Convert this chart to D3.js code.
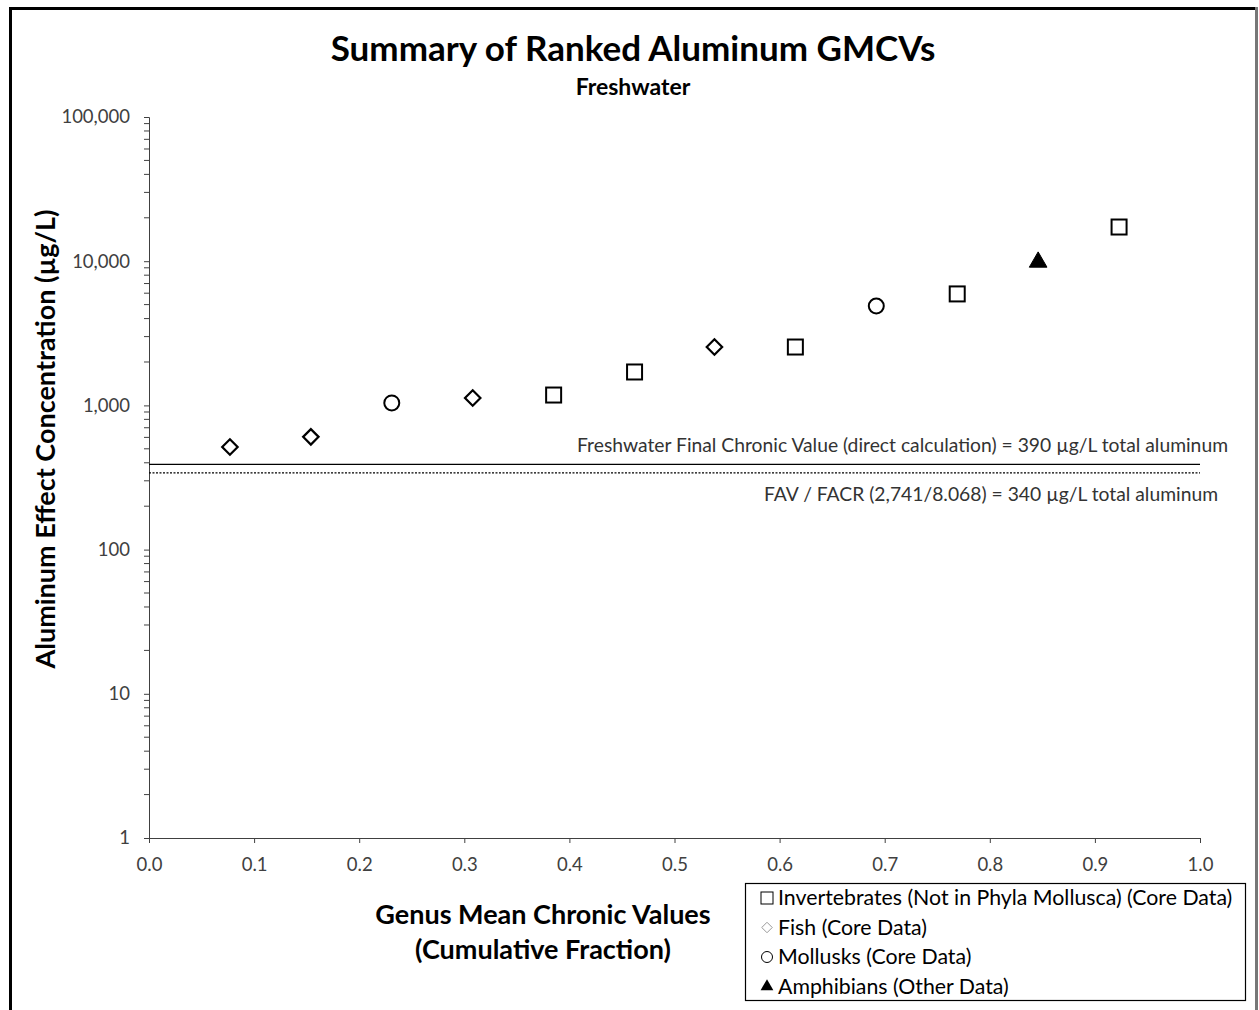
<!DOCTYPE html>
<html>
<head>
<meta charset="utf-8">
<script src="https://cdn.jsdelivr.net/npm/d3@7"></script>
<style>
  html, body { margin: 0; padding: 0; background: #fff; }
  svg { display: block; font-family: Lato, "Open Sans", sans-serif; }
</style>
</head>
<body>
<svg id="chart" width="1259" height="1010"></svg>
<script>
// ---- data ----
const ranks = [1, 2, 3, 4, 5, 6, 7, 8, 9, 10, 11, 12];
const cumFraction = [0.077, 0.154, 0.231, 0.308, 0.385, 0.462, 0.538, 0.615, 0.692, 0.769, 0.846, 0.923];
const gmcv = [515, 605, 1040, 1125, 1180, 1705, 2540, 2540, 4890, 5930, 9860, 17260];
const group = ["Fish", "Fish", "Mollusks", "Fish", "Invertebrates", "Invertebrates", "Fish", "Invertebrates", "Mollusks", "Invertebrates", "Amphibians", "Invertebrates"];
const legendLabels = [
  ["Invertebrates", "Invertebrates (Not in Phyla Mollusca) (Core Data)"],
  ["Fish", "Fish (Core Data)"],
  ["Mollusks", "Mollusks (Core Data)"],
  ["Amphibians", "Amphibians (Other Data)"]
];
const xTicks = [0, 0.1, 0.2, 0.3, 0.4, 0.5, 0.6, 0.7, 0.8, 0.9, 1.0];
const yTicks = [1, 10, 100, 1000, 10000, 100000];
const fcvDirect = 390;
const fcvRatio = 340;
const fcvDirectLabel = "Freshwater Final Chronic Value (direct calculation) = 390 µg/L total aluminum";
const fcvRatioLabel = "FAV / FACR (2,741/8.068) = 340 µg/L total aluminum";

// ---- layout ----
const svg = d3.select("#chart");
const x = d3.scaleLinear().domain([0, 1]).range([149, 1200]);
const y = d3.scaleLog().domain([1, 100000]).range([838, 117]);
const axisColor = "#404040";

// outer frame
svg.append("line").attr("x1", 10).attr("x2", 1257).attr("y1", 8.5).attr("y2", 8.5).attr("stroke", "#000").attr("stroke-width", 3);
svg.append("line").attr("x1", 10.5).attr("x2", 10.5).attr("y1", 7).attr("y2", 1010).attr("stroke", "#000").attr("stroke-width", 3);
svg.append("line").attr("x1", 1256.5).attr("x2", 1256.5).attr("y1", 7).attr("y2", 1010).attr("stroke", "#777").attr("stroke-width", 3);

// title
svg.append("text").attr("x", 633).attr("y", 61).attr("text-anchor", "middle")
  .attr("font-size", 35).attr("font-weight", "bold").attr("fill", "#000")
  .text("Summary of Ranked Aluminum GMCVs");
svg.append("text").attr("x", 633).attr("y", 95).attr("text-anchor", "middle")
  .attr("font-size", 23).attr("font-weight", "bold").attr("fill", "#000")
  .text("Freshwater");

// y axis
const minorTicks = [];
for (let d = 1; d < 100000; d *= 10) for (let m = 2; m <= 9; m++) minorTicks.push(d * m);
const yAxisG = svg.append("g").attr("transform", `translate(${x(0)},0)`);
yAxisG.call(d3.axisLeft(y).tickValues(yTicks).tickFormat(d3.format(",")).tickSize(5).tickPadding(14));
yAxisG.selectAll(".domain").attr("stroke", axisColor);
yAxisG.selectAll(".tick line").attr("stroke", axisColor);
yAxisG.selectAll(".tick text").attr("font-size", 18.5).attr("fill", "#404040").attr("font-family", "Lato, sans-serif");
yAxisG.selectAll(".minor").data(minorTicks).enter().append("line")
  .attr("x1", -5).attr("x2", 0).attr("y1", d => y(d)).attr("y2", d => y(d)).attr("stroke", axisColor);

// x axis
const xAxisG = svg.append("g").attr("transform", `translate(0,${y(1)})`);
xAxisG.call(d3.axisBottom(x).tickValues(xTicks).tickFormat(d3.format(".1f")).tickSize(5).tickPadding(15).tickSizeOuter(0));
xAxisG.selectAll(".domain").attr("stroke", axisColor);
xAxisG.selectAll(".tick line").attr("stroke", axisColor);
xAxisG.selectAll(".tick text").attr("font-size", 18.5).attr("fill", "#404040").attr("font-family", "Lato, sans-serif");

// axis titles
svg.append("text").attr("transform", `translate(55,${439}) rotate(-90)`).attr("text-anchor", "middle")
  .attr("font-size", 27).attr("font-weight", "bold").attr("fill", "#000")
  .text("Aluminum Effect Concentration (µg/L)");
svg.append("text").attr("x", 543).attr("y", 924).attr("text-anchor", "middle")
  .attr("font-size", 27).attr("font-weight", "bold").attr("fill", "#000")
  .text("Genus Mean Chronic Values");
svg.append("text").attr("x", 543).attr("y", 959).attr("text-anchor", "middle")
  .attr("font-size", 27).attr("font-weight", "bold").attr("fill", "#000")
  .text("(Cumulative Fraction)");

// reference lines
svg.append("line").attr("x1", x(0)).attr("x2", x(1)).attr("y1", y(fcvDirect)).attr("y2", y(fcvDirect))
  .attr("stroke", "#000").attr("stroke-width", 1.3);
svg.append("line").attr("x1", x(0)).attr("x2", x(1)).attr("y1", y(fcvRatio)).attr("y2", y(fcvRatio))
  .attr("stroke", "#000").attr("stroke-width", 1.2).attr("stroke-dasharray", "2,1.5");
svg.append("text").attr("x", 1228).attr("y", y(fcvDirect) - 12).attr("text-anchor", "end")
  .attr("font-size", 19.3).attr("fill", "#333").text(fcvDirectLabel);
svg.append("text").attr("x", 1218).attr("y", y(fcvRatio) + 28).attr("text-anchor", "end")
  .attr("font-size", 19.3).attr("fill", "#333").text(fcvRatioLabel);

// markers
function drawMarker(g, type, size) {
  const s = size;
  if (type === "Invertebrates") {
    g.append("rect").attr("x", -s / 2).attr("y", -s / 2).attr("width", s).attr("height", s)
      .attr("fill", "#fff").attr("stroke", "#000").attr("stroke-width", 2);
  } else if (type === "Fish") {
    g.append("path").attr("d", d3.symbol().type(d3.symbolDiamond2).size(s * s * 0.9)())
      .attr("fill", "#fff").attr("stroke", "#000").attr("stroke-width", 2.2);
  } else if (type === "Mollusks") {
    g.append("circle").attr("r", s / 2).attr("fill", "#fff").attr("stroke", "#000").attr("stroke-width", 2);
  } else if (type === "Amphibians") {
    g.append("path").attr("d", d3.symbol().type(d3.symbolTriangle).size(s * s * 0.6)())
      .attr("fill", "#000").attr("stroke", "#000").attr("stroke-width", 1);
  }
}
const pts = svg.append("g");
ranks.forEach((r, i) => {
  const g = pts.append("g").attr("transform", `translate(${x(cumFraction[i])},${y(gmcv[i])})`);
  drawMarker(g, group[i], group[i] === "Fish" ? 13 : 15);
});

// legend
const lg = svg.append("g");
lg.append("rect").attr("x", 745.5).attr("y", 883.5).attr("width", 500).attr("height", 117)
  .attr("fill", "#fff").attr("stroke", "#000").attr("stroke-width", 1.2);
legendLabels.forEach((d, i) => {
  const cy = 898 + i * 29.5;
  const g = lg.append("g").attr("transform", `translate(767,${cy})`);
  if (d[0] === "Invertebrates") {
    g.append("rect").attr("x", -6).attr("y", -6).attr("width", 12).attr("height", 12).attr("fill", "#fff").attr("stroke", "#000").attr("stroke-width", 1);
  } else if (d[0] === "Fish") {
    g.append("path").attr("d", d3.symbol().type(d3.symbolDiamond2).size(70)()).attr("fill", "#fff").attr("stroke", "#999").attr("stroke-width", 1);
  } else if (d[0] === "Mollusks") {
    g.append("circle").attr("r", 5.5).attr("fill", "#fff").attr("stroke", "#000").attr("stroke-width", 1);
  } else {
    g.append("path").attr("d", d3.symbol().type(d3.symbolTriangle).size(70)()).attr("fill", "#000");
  }
  lg.append("text").attr("x", 778).attr("y", cy + 7).attr("font-size", 21.3).attr("fill", "#000").text(d[1]);
});
</script>
</body>
</html>
